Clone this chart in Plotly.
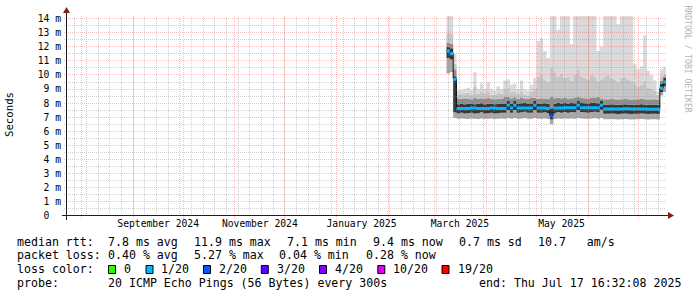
import math
import plotly.graph_objects as go
import pandas as pd

# ---------------- data ----------------
t_start = pd.Timestamp("2024-07-22 16:32:08")
t_end = pd.Timestamp("2025-07-17 16:32:08")

x_tick_vals = ["2024-09-16", "2024-11-16", "2025-01-16", "2025-03-16", "2025-05-16"]
x_tick_text = ["September 2024", "November 2024", "January 2025", "March 2025", "May 2025"]

y_tick_vals = list(range(15))
y_tick_text = ["0\u00a0\u00a0"] + [f"{i} m" for i in range(1, 15)]

# 2-day consolidation bins starting 2025-03-08
bin_start = pd.date_range("2025-03-08", periods=66, freq="2D")

median_ms = [11.7, 11.5, 9.7,
             7.62, 7.62, 7.62, 7.62, 7.65, 7.65, 7.62, 7.62, 7.62, 7.62, 7.65, 7.65, 7.62, 7.62,
             7.62, 7.85, 7.65, 7.85, 7.65, 7.65, 7.65, 7.65, 7.65, 7.85,
             7.65, 7.65, 7.65, 7.62, 7.10, 7.65, 7.65, 7.65, 7.68, 7.68,
             7.68, 7.68, 7.85, 7.68, 7.68, 7.68, 7.68, 7.68, 7.68, 7.86,
             7.58, 7.58, 7.58, 7.58, 7.58, 7.58, 7.60, 7.60, 7.58, 7.58,
             7.58, 7.58, 7.58, 7.56, 7.56, 7.56, 7.56,
             9.05, 9.50]

loss_pct = [0.4, 0.5, 0.6,
            0.3, 0.4, 0.3, 0.4, 0.3, 0.5, 0.4, 0.3, 0.4, 0.3, 0.4, 0.3, 0.4, 0.3,
            0.4, 0.3, 0.4, 0.5, 0.3, 0.4, 0.3, 0.4, 0.3, 0.4,
            0.5, 0.4, 0.6, 0.5, 5.27, 0.5, 0.4, 0.3, 0.4, 0.5,
            0.4, 0.3, 0.6, 0.4, 0.3, 0.4, 0.5, 0.4, 0.3, 0.4,
            0.3, 0.4, 0.3, 0.4, 0.3, 0.4, 0.3, 0.4, 0.3, 0.4,
            0.3, 0.4, 0.3, 0.4, 0.3, 0.4, 0.3,
            0.3, 0.28]

smoke_min = [10.1, 10.2, 6.95,
             6.90, 6.92, 6.90, 6.88, 6.92, 6.90, 6.88, 6.92, 6.90, 6.90, 6.92, 6.88, 6.90, 6.92,
             6.90, 6.95, 6.90, 6.95, 6.90, 6.92, 6.94, 6.90, 6.90, 6.95,
             6.90, 6.90, 6.92, 6.88, 6.50, 6.88, 6.92, 6.90, 6.92, 6.90,
             6.92, 6.90, 6.95, 6.92, 6.90, 6.90, 6.92, 6.94, 6.90, 6.95,
             6.86, 6.86, 6.88, 6.86, 6.84, 6.86, 6.88, 6.86, 6.84, 6.86,
             6.86, 6.88, 6.86, 6.84, 6.86, 6.86, 6.84,
             8.55, 8.80]

smoke_p25 = [11.2, 11.1, 7.35,
             7.27, 7.32, 7.27, 7.29, 7.32, 7.27, 7.29, 7.35, 7.27, 7.29, 7.32, 7.27, 7.29, 7.32,
             7.32, 7.52, 7.32, 7.52, 7.32, 7.35, 7.39, 7.32, 7.32, 7.52,
             7.32, 7.32, 7.35, 7.29, 6.85, 7.29, 7.37, 7.32, 7.37, 7.32,
             7.37, 7.35, 7.52, 7.37, 7.35, 7.32, 7.37, 7.39, 7.35, 7.53,
             7.25, 7.25, 7.27, 7.25, 7.23, 7.25, 7.27, 7.25, 7.23, 7.25,
             7.25, 7.27, 7.25, 7.23, 7.25, 7.25, 7.23,
             8.80, 9.20]

smoke_p75 = [12.0, 11.9, 9.9,
             7.93, 7.98, 7.93, 7.95, 7.98, 7.93, 7.95, 8.00, 7.93, 7.95, 7.98, 7.93, 7.95, 7.98,
             7.98, 8.15, 7.98, 8.15, 7.98, 8.00, 8.04, 7.98, 7.98, 8.15,
             7.98, 7.98, 8.00, 7.95, 7.60, 7.95, 8.02, 7.98, 8.02, 7.98,
             8.02, 8.00, 8.15, 8.02, 8.00, 7.98, 8.02, 8.04, 8.00, 8.16,
             7.90, 7.90, 7.92, 7.90, 7.88, 7.90, 7.92, 7.90, 7.88, 7.90,
             7.90, 7.92, 7.90, 7.88, 7.90, 7.90, 7.88,
             9.40, 9.80]

smoke_p90 = [12.3, 12.2, 10.4,
             8.30, 8.32, 8.35, 8.30, 8.28, 8.40, 8.32, 8.35, 8.30, 8.38, 8.30, 8.28, 8.33, 8.30,
             8.45, 8.48, 8.35, 8.42, 8.30, 8.36, 8.32, 8.30, 8.40, 8.38,
             8.32, 8.35, 8.33, 8.30, 8.45, 8.35, 8.38, 8.35, 8.36, 8.33,
             8.35, 8.36, 8.48, 8.38, 8.35, 8.33, 8.36, 8.37, 8.45, 8.30,
             8.28, 8.28, 8.30, 8.28, 8.26, 8.28, 8.30, 8.28, 8.26, 8.28,
             8.27, 8.30, 8.28, 8.26, 8.28, 8.27, 8.25,
             9.60, 9.90]

smoke_p95 = [13.0, 12.9, 10.8,
             8.60, 8.65, 8.70, 8.75, 8.60, 9.20, 8.65, 8.80, 8.65, 8.90, 8.60, 8.60, 8.75, 8.65,
             9.00, 9.10, 8.80, 8.85, 8.65, 8.90, 8.60, 8.55, 8.80, 9.00,
             9.90, 10.0, 9.70, 9.50, 10.5, 10.2, 9.90, 10.1, 9.80, 9.90,
             9.60, 10.0, 10.4, 9.90, 9.80, 9.70, 10.0, 9.90, 9.60, 9.70,
             9.90, 10.0, 9.80, 9.70, 9.50, 9.80, 9.90, 9.70, 9.60, 9.40,
             9.20, 9.30, 9.60, 9.10, 9.00, 8.90, 8.60,
             9.90, 10.1]

smoke_max = [14.5, 14.5, 11.5,
             8.90, 8.95, 9.00, 9.10, 8.90, 10.2, 9.00, 9.40, 9.00, 9.50, 9.00, 8.90, 9.20, 9.00,
             9.60, 9.70, 9.30, 9.40, 9.00, 9.60, 9.00, 8.90, 9.30, 9.80,
             12.4, 12.6, 11.7, 11.2, 14.5, 14.5, 13.2, 14.5, 14.5, 14.5,
             12.2, 14.5, 14.5, 14.5, 14.5, 14.5, 14.5, 14.5, 11.7, 12.0,
             14.5, 14.5, 14.5, 14.5, 13.6, 14.5, 14.5, 14.5, 14.5, 10.8,
             10.4, 10.6, 12.8, 10.3, 10.0, 9.60, 8.80,
             10.4, 10.6]

loss_labels = ["0", "1/20", "2/20", "3/20", "4/20", "10/20", "19/20"]
loss_limits = [0.0, 5.0, 10.0, 15.0, 20.0, 50.0, 95.0]   # percent upper bounds
loss_colors = ["#26ff00", "#00b8ff", "#0059ff", "#5e00ff", "#7e00ff", "#dd00ff", "#ff0000"]

legend_rows = [
    [("median rtt:", 16), ("7.8 ms avg", 107.3), ("11.9 ms max", 193.3), ("7.1 ms min", 286),
     ("9.4 ms now", 372), ("0.7 ms sd", 458.3), ("10.7   am/s", 537.3)],
    [("packet loss:", 16), ("0.40 % avg", 107.3), ("5.27 % max", 193.3), ("0.04 % min", 278.3),
     ("0.28 % now", 365)],
    [("loss color:", 16)],
    [("probe:", 16), ("20 ICMP Echo Pings (56 Bytes) every 300s", 107.3),
     ("end: Thu Jul 17 16:32:08 2025", 478.3)],
]
legend_row_y = [241.5, 255.2, 269, 283.2]
loss_swatch_x = [108.5, 146, 203.5, 261.3, 319.5, 377.8, 442]
loss_label_x = [123.3, 160, 218.3, 276, 334.3, 391.7, 456.7]

# ---------------- layout geometry ----------------
L, T, W, H = 66, 16, 600, 200
FIG_W, FIG_H = 697, 297
Y_MAX = 14.18
MONO = "DejaVu Sans Mono"
MEDIAN_HALF_PX = 1.5


def px(xp):
    return (xp - L) / W


def py(yp):
    return (T + H - yp) / H


def snap(p):
    return math.floor(p) + 0.5


def date_px(d):
    return L + (pd.Timestamp(d) - t_start) / (t_end - t_start) * W


def val_px(v):
    return T + H - v / Y_MAX * H


def loss_color(v):
    for lim, col in zip(loss_limits, loss_colors):
        if v <= lim:
            return col
    return loss_colors[-1]


edges = list(bin_start) + [bin_start[-1] + pd.Timedelta(days=2)]


def step(vals):
    return list(vals) + [vals[-1]]


fig = go.Figure()

# smoke bands
bands = [
    (smoke_min, None),
    (smoke_p25, "#a8a8a8"),
    (smoke_p75, "#363636"),
    (smoke_p90, "#8e8e8e"),
    (smoke_p95, "#c6c6c6"),
    (smoke_max, "#dadada"),
]
for vals, col in bands:
    fig.add_trace(go.Scatter(
        x=edges, y=step(vals), mode="lines", line=dict(width=0, shape="hv"),
        fill="tonexty" if col else None, fillcolor=col, hoverinfo="skip", showlegend=False))

# median step line (dark, shows the vertical jumps)
fig.add_trace(go.Scatter(x=edges, y=step(median_ms), mode="lines",
                         line=dict(color="#111111", width=1, shape="hv"),
                         hoverinfo="skip", showlegend=False))

# median coloured by loss: a thin band around the median, no vertical strokes
half = MEDIAN_HALF_PX * Y_MAX / H
runs = []
for i, m in enumerate(median_ms):
    c = loss_color(loss_pct[i])
    if runs and runs[-1][0] == c and runs[-1][2] == i:
        runs[-1][2] = i + 1
    else:
        runs.append([c, i, i + 1])
for c, a, b in runs:
    seg = median_ms[a:b]
    fig.add_trace(go.Scatter(x=edges[a:b + 1], y=step([m - half for m in seg]), mode="lines",
                             line=dict(width=0, shape="hv"), hoverinfo="skip", showlegend=False))
    fig.add_trace(go.Scatter(x=edges[a:b + 1], y=step([m + half for m in seg]), mode="lines",
                             line=dict(width=0, shape="hv"), fill="tonexty", fillcolor=c,
                             hoverinfo="skip", showlegend=False))

shapes = []
# grid (drawn above the smoke like rrdtool), snapped to pixel centres
minor_col = "rgba(143,143,143,0.42)"
major_col = "rgba(222,79,79,0.32)"
for d in pd.date_range("2024-07-28", t_end, freq="7D"):
    xx = px(snap(date_px(d)))
    shapes.append(dict(type="line", xref="paper", yref="paper", x0=xx, x1=xx, y0=0, y1=1,
                       line=dict(color=minor_col, width=1, dash="1px,1px"), layer="above"))
for d in pd.date_range("2024-08-01", t_end, freq="MS"):
    xx = px(snap(date_px(d)))
    shapes.append(dict(type="line", xref="paper", yref="paper", x0=xx, x1=xx, y0=-3 / H, y1=1,
                       line=dict(color=major_col, width=1, dash="1px,1px"), layer="above"))
for v in [i + 0.5 for i in range(14)]:
    yy = py(snap(val_px(v)))
    shapes.append(dict(type="line", xref="paper", yref="paper", x0=-2 / W, x1=1, y0=yy, y1=yy,
                       line=dict(color=minor_col, width=1, dash="1px,1px"), layer="above"))
for v in range(1, 15):
    yy = py(snap(val_px(v)))
    shapes.append(dict(type="line", xref="paper", yref="paper", x0=-2 / W, x1=1, y0=yy, y1=yy,
                       line=dict(color=major_col, width=1, dash="1px,1px"), layer="above"))

# axes and arrows
axis_col = "#1f1f1f"
arrow_col = "#801f1f"
shapes.append(dict(type="line", xref="paper", yref="paper", x0=px(62), x1=px(669),
                   y0=py(215.5), y1=py(215.5), line=dict(color=axis_col, width=1), layer="above"))
shapes.append(dict(type="line", xref="paper", yref="paper", x0=px(66.5), x1=px(66.5),
                   y0=py(220), y1=py(12), line=dict(color=axis_col, width=1), layer="above"))
shapes.append(dict(type="path", xref="paper", yref="paper",
                   path=f"M {px(668)} {py(212)} L {px(674)} {py(215.5)} L {px(668)} {py(219)} Z",
                   fillcolor=arrow_col, line=dict(color=arrow_col, width=0), layer="above"))
shapes.append(dict(type="path", xref="paper", yref="paper",
                   path=f"M {px(63)} {py(13)} L {px(66.5)} {py(7)} L {px(70)} {py(13)} Z",
                   fillcolor=arrow_col, line=dict(color=arrow_col, width=0), layer="above"))

# loss colour swatches
for sx, col in zip(loss_swatch_x, loss_colors):
    shapes.append(dict(type="rect", xref="paper", yref="paper", x0=px(sx), x1=px(sx + 7),
                       y0=py(273.5), y1=py(265.5), fillcolor=col, line=dict(color="#000000", width=1)))

annotations = []
for row, yy in zip(legend_rows, legend_row_y):
    for txt, xx in row:
        annotations.append(dict(text=txt.replace(" ", "\u00a0"), x=px(xx - 1), y=py(yy),
                                xref="paper", yref="paper", xanchor="left", yanchor="middle",
                                showarrow=False, font=dict(family=MONO, size=11.6, color="#000000")))
for lab, xx in zip(loss_labels, loss_label_x):
    annotations.append(dict(text=lab, x=px(xx - 1), y=py(legend_row_y[2]), xref="paper", yref="paper",
                            xanchor="left", yanchor="middle", showarrow=False,
                            font=dict(family=MONO, size=11.6, color="#000000")))
annotations.append(dict(text="Seconds", x=px(9.5), y=py(114.5), xref="paper", yref="paper",
                        xanchor="center", yanchor="middle", textangle=-90, showarrow=False,
                        font=dict(family=MONO, size=10.7, color="#000000")))
annotations.append(dict(text="RRDTOOL / TOBI OETIKER", x=px(687.5), y=py(59), xref="paper", yref="paper",
                        xanchor="center", yanchor="middle", textangle=90, showarrow=False,
                        font=dict(family=MONO, size=8.1, color="#b4b4b4")))

fig.update_layout(
    width=FIG_W, height=FIG_H,
    margin=dict(l=L, r=FIG_W - L - W, t=T, b=FIG_H - T - H, pad=0),
    paper_bgcolor="#ffffff", plot_bgcolor="#ffffff",
    showlegend=False,
    shapes=shapes, annotations=annotations,
    xaxis=dict(type="date", range=[t_start, t_end], showgrid=False, zeroline=False, showline=False,
               ticks="", tickvals=x_tick_vals, ticktext=x_tick_text,
               tickfont=dict(family=MONO, size=9.7, color="#000000"), fixedrange=True),
    yaxis=dict(range=[0, Y_MAX], showgrid=False, zeroline=False, showline=False, ticks="",
               tickvals=y_tick_vals, ticktext=y_tick_text, ticklabelstandoff=4,
               tickfont=dict(family=MONO, size=9.7, color="#000000"), fixedrange=True),
)

fig.write_html("out.html", config={"displayModeBar": False})
